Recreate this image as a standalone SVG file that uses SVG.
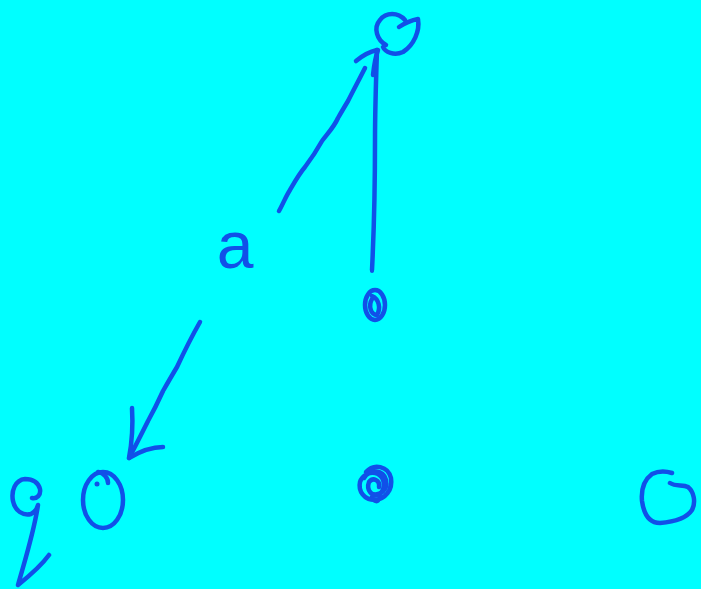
<svg xmlns="http://www.w3.org/2000/svg" width="701" height="589" viewBox="0 0 701 589">
<style>
.s{fill:none;stroke:#1150e8;stroke-width:4.5;stroke-linecap:round;stroke-linejoin:round}
.t{font-family:"Liberation Sans",Arial,sans-serif;fill:#1150e8}
</style>
<rect width="701" height="589" fill="#00ffff"/>
<g id="connectors">
<path class="s" d="M279,211 C283,204 286,196 290,190 C294,183 299,174 305,167 C311,159 317,150 322,141 C328,133 334,127 338,118 C342,111 345,106 348,101 C354,89 360,78 365,68"/>
<path class="s" d="M356,61 C362,56 368,52 377,50"/>
<path class="s" d="M373,75 C374,66 375,58 378,50"/>
<path class="s" d="M372,270 C374,230 375,180 375,140 C375,110 376,80 377,50"/>
<path class="s" d="M200,322 C192,336 184,352 177,367 C171,377 167,384 163,391 C158,402 153,412 148,421 C141,435 135,447 129,458"/>
<path class="s" d="M132,408 C133,424 132,442 129,458 C139,452 150,447 163,447"/>
</g>
<g id="node-top">
<path class="s" d="M386,45 C377,40 373,28 380,20 C386,12 398,12 405,20 M399,27 C405,23 412,20 418,19 C420,31 414,45 403,52 C394,56 385,52 383,47"/>
</g>
<g id="node-a">
<text class="t" x="235" y="268" font-size="66" text-anchor="middle">a</text>
</g>
<g id="node-mid">
<ellipse class="s" cx="375" cy="305" rx="10" ry="15"/>
<path class="s" d="M372,296 C379,299 381,308 377,315 C371,315 368,306 372,299"/>
<circle cx="372" cy="271" r="2" fill="#1150e8"/>
</g>
<g id="node-bottom-mid">
<path class="s" d="M366,472 C374,463 388,466 391,478 C393,490 385,499 375,500 C364,500 358,491 360,482 C362,476 370,470 378,474 C385,478 386,488 380,494 C372,498 366,490 369,482 C373,477 380,480 379,487 M372,497 C374,502 378,503 380,497 M364,478 C370,468 384,470 386,480 C388,490 380,496 372,494"/>
</g>
<g id="node-nine">
<path class="s" d="M32,498 C37,499 41,495 40,489 C38,482 32,479 25,479 C15,480 11,491 13,501 C15,511 23,516 31,514 C35,512 37,509 38,505 C34,532 25,560 18,585 C28,577 41,566 49,555"/>
</g>
<g id="node-zero">
<ellipse class="s" cx="103" cy="500" rx="20" ry="28"/>
<path class="s" d="M98,472 C104,473 108,478 108,483"/>
<circle cx="97" cy="484" r="2.5" fill="#1150e8"/>
</g>
<g id="node-right">
<path class="s" d="M672,473 C666,471 658,471 652,474 C644,480 641,490 642,501 C644,515 650,523 660,523 C672,522 686,519 692,510 C696,502 694,492 688,487 C683,484 676,487 670,483"/>
</g>
</svg>
